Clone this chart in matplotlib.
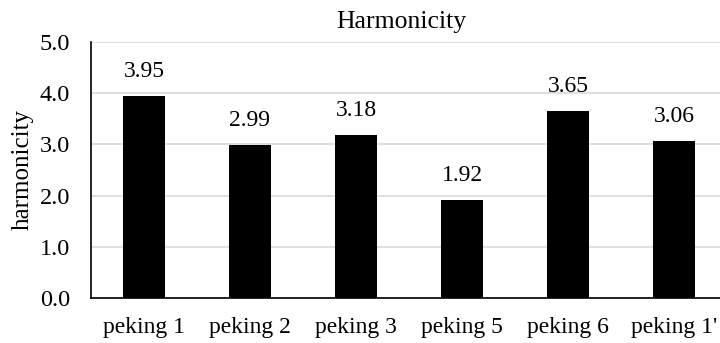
import matplotlib
matplotlib.use("Agg")
from matplotlib import pyplot as plt

categories = ["peking 1", "peking 2", "peking 3", "peking 5", "peking 6", "peking 1'"]
values = [3.95, 2.99, 3.18, 1.92, 3.65, 3.06]
yticks = [0.0, 1.0, 2.0, 3.0, 4.0, 5.0]

plt.rcParams["font.family"] = ["Liberation Serif", "DejaVu Serif"]
plt.rcParams["font.size"] = 17

fig = plt.figure(figsize=(7.2, 3.43), dpi=100)
ax = fig.add_axes([91 / 720, 45 / 343, 636 / 720, 256 / 343])

xs = list(range(len(categories)))
ax.bar(xs, values, width=0.4, color="black", zorder=3)

for x, v in zip(xs, values):
    ax.annotate(f"{v:.2f}", (x, v), xytext=(0, 10), textcoords="offset points",
                ha="center", va="bottom", fontsize=17)

ax.set_xlim(-0.5, len(categories) - 0.5)
ax.set_ylim(0, 5)
ax.set_yticks(yticks)
ax.set_yticklabels([f"{t:.1f}" for t in yticks], fontsize=17.5)
ax.set_xticks(xs)
ax.set_xticklabels(categories, fontsize=17)
ax.tick_params(axis="x", length=0, pad=14)
ax.tick_params(axis="y", length=0, pad=15)
ax.yaxis.grid(True, color="#d9d9d9", linewidth=1.2, zorder=0)
ax.set_axisbelow(True)

for s in ["top", "right"]:
    ax.spines[s].set_visible(False)
ax.spines["left"].set_linewidth(1.2)
ax.spines["bottom"].set_linewidth(1.2)

ax.set_ylabel("harmonicity", fontsize=18)
ax.yaxis.set_label_coords(-57 / 636, 0.5)
fig.text(401 / 720, 1 - 22 / 343, "Harmonicity", ha="center", va="center", fontsize=18.5)

fig.savefig("out.png", dpi=100)
